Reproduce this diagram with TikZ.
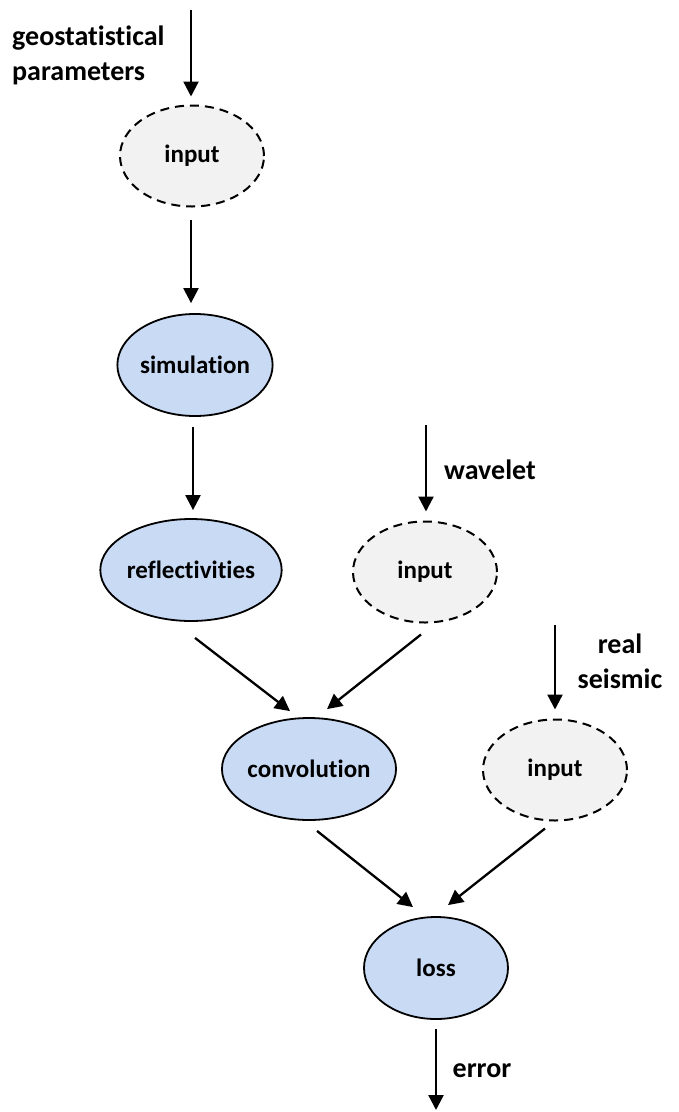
\documentclass[tikz,border=0pt]{standalone}
\usepackage{fontspec}
\setmainfont{Carlito}[Ligatures=NoCommon]
\usetikzlibrary{arrows.meta,calc,shapes.geometric}
\definecolor{procfill}{HTML}{C9DAF5}
\definecolor{infill}{HTML}{F2F2F2}
\begin{document}
\begin{tikzpicture}[x=1pt,y=-1pt,
  every node/.style={font=\fontsize{25}{33}\selectfont\bfseries},
  procnode/.style={ellipse,draw,line width=1.8pt,fill=procfill,minimum width=144pt,minimum height=102pt,inner sep=0pt},
  inputnode/.style={ellipse,draw,line width=2pt,dash pattern=on 9pt off 6pt,fill=infill,minimum width=144pt,minimum height=101pt,inner sep=0pt},
  arr/.style={line width=2.3pt,-{Triangle[length=15pt,width=15pt]}},
  lbl/.style={inner sep=0pt,font=\fontsize{28}{35}\selectfont\bfseries}]
\useasboundingbox (0,0) rectangle (678,1112);
% process and input nodes
\node[inputnode] (in1) at (192,156) {input};
\node[procnode] (sim) at (195,365) {simulation};
\node[procnode] (refl) at (191,570) {reflectivities};
\node[inputnode] (in2) at (425,572) {input};
\node[procnode] (conv) at (309,769) {convolution};
\node[inputnode] (in3) at (555,770) {input};
\node[procnode] (loss) at (436,968) {loss};
% labels (base anchor = baseline of the last line)
\node[lbl,align=left,anchor=base west] (geo) at (12,80) {geostatistical\\parameters};
\node[lbl,anchor=base] (wav) at (490,479) {wavelet};
\node[lbl,align=center,anchor=base] (real) at (620,688) {real\\seismic};
\node[lbl,anchor=base] (err) at (482,1077) {error};
% free ends
\coordinate (top1) at (191,10);
\coordinate (top2) at (426,425);
\coordinate (top3) at (555,625);
\coordinate (bot) at (436,1110);
% connectors
\draw[arr] (top1) -- ($(in1.north)+(-1,-8)$);
\draw[arr] ($(in1.south)+(-1,12)$) -- ($(sim.north)+(-4,-10)$);
\draw[arr] ($(sim.south)+(-2,10)$) -- ($(refl.north)+(2,-8)$);
\draw[arr] (top2) -- ($(in2.north)+(1,-9)$);
\draw[arr] ($(refl.south)+(4,16)$) -- ($(conv.north)+(-19,-6)$);
\draw[arr] ($(in2.south)+(-4,11)$) -- ($(conv.north)+(18,-8)$);
\draw[arr] (top3) -- ($(in3.north)+(0,-9)$);
\draw[arr] ($(conv.south)+(8,10)$) -- ($(loss.north)+(-23,-9)$);
\draw[arr] ($(in3.south)+(-10,7)$) -- ($(loss.north)+(12,-11)$);
\draw[arr] ($(loss.south)+(0,9)$) -- (bot);
\end{tikzpicture}
\end{document}
